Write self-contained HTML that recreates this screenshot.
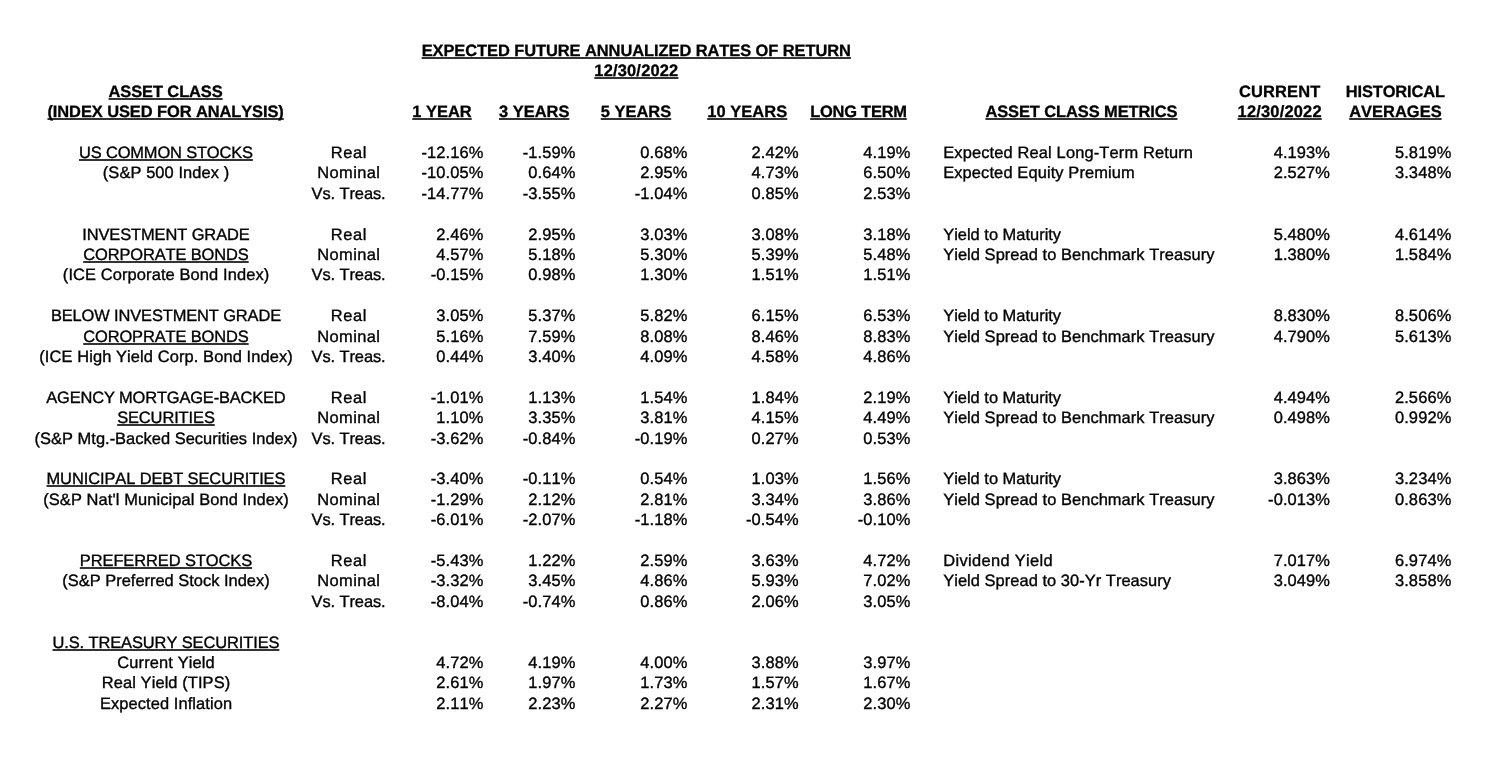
<!DOCTYPE html>
<html lang="en">
<head>
<meta charset="utf-8">
<title>Expected Future Annualized Rates of Return - 12/30/2022</title>
<style>
html,body{margin:0;padding:0;background:#fff;}
body{width:1505px;height:771px;position:relative;overflow:hidden;font-family:"Liberation Sans",Arial,Helvetica,sans-serif;font-size:16.45px;line-height:20.0px;color:#000;}
.sheet{position:absolute;left:0;top:0;width:1505px;height:771px;font-kerning:none;text-rendering:geometricPrecision;-webkit-text-stroke:0.35px #000;}
.row{position:absolute;left:0;width:1505px;height:20.0px;}
.t{position:absolute;top:0;white-space:nowrap;height:20.0px;}
.c{transform:translateX(-50%);}
.r{transform:translateX(-100%);}
b{font-weight:bold;-webkit-text-stroke:0.3px #000;}
u{text-decoration:underline;text-decoration-thickness:1.6px;text-underline-offset:1.3px;text-decoration-color:#333;text-decoration-skip-ink:none;}
</style>
</head>
<body>
<div class="sheet">
<div class="row" style="top:41px">
<div class="t c" style="left:636.27px;letter-spacing:-0.064px"><b><u>EXPECTED FUTURE ANNUALIZED RATES OF RETURN</u></b></div>
</div>
<div class="row" style="top:61px">
<div class="t c" style="left:636.39px;letter-spacing:0.187px"><b><u>12/30/2022</u></b></div>
</div>
<div class="row" style="top:82px">
<div class="t c" style="left:165.60px;letter-spacing:-0.097px"><b><u>ASSET CLASS</u></b></div>
<div class="t c" style="left:1279.69px;letter-spacing:0.172px"><b>CURRENT</b></div>
<div class="t c" style="left:1395.33px;letter-spacing:-0.131px"><b>HISTORICAL</b></div>
</div>
<div class="row" style="top:102px">
<div class="t c" style="left:165.61px;letter-spacing:-0.082px"><b><u>(INDEX USED FOR ANALYSIS)</u></b></div>
<div class="t c" style="left:442.01px;letter-spacing:0.013px"><b><u>1 YEAR</u></b></div>
<div class="t c" style="left:534.20px;letter-spacing:0.001px"><b><u>3 YEARS</u></b></div>
<div class="t c" style="left:636.01px;letter-spacing:0.015px"><b><u>5 YEARS</u></b></div>
<div class="t c" style="left:747.24px;letter-spacing:0.082px"><b><u>10 YEARS</u></b></div>
<div class="t c" style="left:858.49px;letter-spacing:-0.221px"><b><u>LONG TERM</u></b></div>
<div class="t c" style="left:1081.46px;letter-spacing:-0.082px"><b><u>ASSET CLASS METRICS</u></b></div>
<div class="t c" style="left:1279.69px;letter-spacing:0.187px"><b><u>12/30/2022</u></b></div>
<div class="t c" style="left:1395.41px;letter-spacing:0.022px"><b><u>AVERAGES</u></b></div>
</div>
<div class="row" style="top:143px">
<div class="t c" style="left:165.93px;letter-spacing:-0.149px"><u>US COMMON STOCKS</u></div>
<div class="t c" style="left:348.91px;letter-spacing:0.624px">Real</div>
<div class="t r" style="left:483.52px;letter-spacing:0.120px">-12.16%</div>
<div class="t r" style="left:575.52px;letter-spacing:0.120px">-1.59%</div>
<div class="t r" style="left:687.52px;letter-spacing:0.120px">0.68%</div>
<div class="t r" style="left:798.72px;letter-spacing:0.120px">2.42%</div>
<div class="t r" style="left:910.52px;letter-spacing:0.120px">4.19%</div>
<div class="t" style="left:943.20px;letter-spacing:0.139px">Expected Real Long-Term Return</div>
<div class="t r" style="left:1330.12px;letter-spacing:0.120px">4.193%</div>
<div class="t r" style="left:1451.42px;letter-spacing:0.120px">5.819%</div>
</div>
<div class="row" style="top:163px">
<div class="t c" style="left:166.04px;letter-spacing:0.077px">(S&amp;P 500 Index )</div>
<div class="t c" style="left:348.78px;letter-spacing:0.361px">Nominal</div>
<div class="t r" style="left:483.52px;letter-spacing:0.120px">-10.05%</div>
<div class="t r" style="left:575.52px;letter-spacing:0.120px">0.64%</div>
<div class="t r" style="left:687.52px;letter-spacing:0.120px">2.95%</div>
<div class="t r" style="left:798.72px;letter-spacing:0.120px">4.73%</div>
<div class="t r" style="left:910.52px;letter-spacing:0.120px">6.50%</div>
<div class="t" style="left:943.20px;letter-spacing:0.114px">Expected Equity Premium</div>
<div class="t r" style="left:1330.12px;letter-spacing:0.120px">2.527%</div>
<div class="t r" style="left:1451.42px;letter-spacing:0.120px">3.348%</div>
</div>
<div class="row" style="top:184px">
<div class="t c" style="left:348.55px;letter-spacing:-0.093px">Vs. Treas.</div>
<div class="t r" style="left:483.52px;letter-spacing:0.120px">-14.77%</div>
<div class="t r" style="left:575.52px;letter-spacing:0.120px">-3.55%</div>
<div class="t r" style="left:687.52px;letter-spacing:0.120px">-1.04%</div>
<div class="t r" style="left:798.72px;letter-spacing:0.120px">0.85%</div>
<div class="t r" style="left:910.52px;letter-spacing:0.120px">2.53%</div>
</div>
<div class="row" style="top:225px">
<div class="t c" style="left:165.95px;letter-spacing:-0.098px">INVESTMENT GRADE</div>
<div class="t c" style="left:348.91px;letter-spacing:0.624px">Real</div>
<div class="t r" style="left:483.52px;letter-spacing:0.120px">2.46%</div>
<div class="t r" style="left:575.52px;letter-spacing:0.120px">2.95%</div>
<div class="t r" style="left:687.52px;letter-spacing:0.120px">3.03%</div>
<div class="t r" style="left:798.72px;letter-spacing:0.120px">3.08%</div>
<div class="t r" style="left:910.52px;letter-spacing:0.120px">3.18%</div>
<div class="t" style="left:943.20px;letter-spacing:0.002px">Yield to Maturity</div>
<div class="t r" style="left:1330.12px;letter-spacing:0.120px">5.480%</div>
<div class="t r" style="left:1451.42px;letter-spacing:0.120px">4.614%</div>
</div>
<div class="row" style="top:245px">
<div class="t c" style="left:165.94px;letter-spacing:-0.111px"><u>CORPORATE BONDS</u></div>
<div class="t c" style="left:348.78px;letter-spacing:0.361px">Nominal</div>
<div class="t r" style="left:483.52px;letter-spacing:0.120px">4.57%</div>
<div class="t r" style="left:575.52px;letter-spacing:0.120px">5.18%</div>
<div class="t r" style="left:687.52px;letter-spacing:0.120px">5.30%</div>
<div class="t r" style="left:798.72px;letter-spacing:0.120px">5.39%</div>
<div class="t r" style="left:910.52px;letter-spacing:0.120px">5.48%</div>
<div class="t" style="left:943.20px;letter-spacing:0.053px">Yield Spread to Benchmark Treasury</div>
<div class="t r" style="left:1330.12px;letter-spacing:0.120px">1.380%</div>
<div class="t r" style="left:1451.42px;letter-spacing:0.120px">1.584%</div>
</div>
<div class="row" style="top:265px">
<div class="t c" style="left:166.05px;letter-spacing:0.105px">(ICE Corporate Bond Index)</div>
<div class="t c" style="left:348.55px;letter-spacing:-0.093px">Vs. Treas.</div>
<div class="t r" style="left:483.52px;letter-spacing:0.120px">-0.15%</div>
<div class="t r" style="left:575.52px;letter-spacing:0.120px">0.98%</div>
<div class="t r" style="left:687.52px;letter-spacing:0.120px">1.30%</div>
<div class="t r" style="left:798.72px;letter-spacing:0.120px">1.51%</div>
<div class="t r" style="left:910.52px;letter-spacing:0.120px">1.51%</div>
</div>
<div class="row" style="top:306px">
<div class="t c" style="left:165.94px;letter-spacing:-0.126px">BELOW INVESTMENT GRADE</div>
<div class="t c" style="left:348.91px;letter-spacing:0.624px">Real</div>
<div class="t r" style="left:483.52px;letter-spacing:0.120px">3.05%</div>
<div class="t r" style="left:575.52px;letter-spacing:0.120px">5.37%</div>
<div class="t r" style="left:687.52px;letter-spacing:0.120px">5.82%</div>
<div class="t r" style="left:798.72px;letter-spacing:0.120px">6.15%</div>
<div class="t r" style="left:910.52px;letter-spacing:0.120px">6.53%</div>
<div class="t" style="left:943.20px;letter-spacing:0.002px">Yield to Maturity</div>
<div class="t r" style="left:1330.12px;letter-spacing:0.120px">8.830%</div>
<div class="t r" style="left:1451.42px;letter-spacing:0.120px">8.506%</div>
</div>
<div class="row" style="top:327px">
<div class="t c" style="left:165.94px;letter-spacing:-0.111px"><u>COROPRATE BONDS</u></div>
<div class="t c" style="left:348.78px;letter-spacing:0.361px">Nominal</div>
<div class="t r" style="left:483.52px;letter-spacing:0.120px">5.16%</div>
<div class="t r" style="left:575.52px;letter-spacing:0.120px">7.59%</div>
<div class="t r" style="left:687.52px;letter-spacing:0.120px">8.08%</div>
<div class="t r" style="left:798.72px;letter-spacing:0.120px">8.46%</div>
<div class="t r" style="left:910.52px;letter-spacing:0.120px">8.83%</div>
<div class="t" style="left:943.20px;letter-spacing:0.053px">Yield Spread to Benchmark Treasury</div>
<div class="t r" style="left:1330.12px;letter-spacing:0.120px">4.790%</div>
<div class="t r" style="left:1451.42px;letter-spacing:0.120px">5.613%</div>
</div>
<div class="row" style="top:347px">
<div class="t c" style="left:166.05px;letter-spacing:0.100px">(ICE High Yield Corp. Bond Index)</div>
<div class="t c" style="left:348.55px;letter-spacing:-0.093px">Vs. Treas.</div>
<div class="t r" style="left:483.52px;letter-spacing:0.120px">0.44%</div>
<div class="t r" style="left:575.52px;letter-spacing:0.120px">3.40%</div>
<div class="t r" style="left:687.52px;letter-spacing:0.120px">4.09%</div>
<div class="t r" style="left:798.72px;letter-spacing:0.120px">4.58%</div>
<div class="t r" style="left:910.52px;letter-spacing:0.120px">4.86%</div>
</div>
<div class="row" style="top:388px">
<div class="t c" style="left:165.92px;letter-spacing:-0.167px">AGENCY MORTGAGE-BACKED</div>
<div class="t c" style="left:348.91px;letter-spacing:0.624px">Real</div>
<div class="t r" style="left:483.52px;letter-spacing:0.120px">-1.01%</div>
<div class="t r" style="left:575.52px;letter-spacing:0.120px">1.13%</div>
<div class="t r" style="left:687.52px;letter-spacing:0.120px">1.54%</div>
<div class="t r" style="left:798.72px;letter-spacing:0.120px">1.84%</div>
<div class="t r" style="left:910.52px;letter-spacing:0.120px">2.19%</div>
<div class="t" style="left:943.20px;letter-spacing:0.002px">Yield to Maturity</div>
<div class="t r" style="left:1330.12px;letter-spacing:0.120px">4.494%</div>
<div class="t r" style="left:1451.42px;letter-spacing:0.120px">2.566%</div>
</div>
<div class="row" style="top:408px">
<div class="t c" style="left:165.95px;letter-spacing:-0.102px"><u>SECURITIES</u></div>
<div class="t c" style="left:348.78px;letter-spacing:0.361px">Nominal</div>
<div class="t r" style="left:483.52px;letter-spacing:0.120px">1.10%</div>
<div class="t r" style="left:575.52px;letter-spacing:0.120px">3.35%</div>
<div class="t r" style="left:687.52px;letter-spacing:0.120px">3.81%</div>
<div class="t r" style="left:798.72px;letter-spacing:0.120px">4.15%</div>
<div class="t r" style="left:910.52px;letter-spacing:0.120px">4.49%</div>
<div class="t" style="left:943.20px;letter-spacing:0.053px">Yield Spread to Benchmark Treasury</div>
<div class="t r" style="left:1330.12px;letter-spacing:0.120px">0.498%</div>
<div class="t r" style="left:1451.42px;letter-spacing:0.120px">0.992%</div>
</div>
<div class="row" style="top:429px">
<div class="t c" style="left:166.01px;letter-spacing:0.022px">(S&amp;P Mtg.-Backed Securities Index)</div>
<div class="t c" style="left:348.55px;letter-spacing:-0.093px">Vs. Treas.</div>
<div class="t r" style="left:483.52px;letter-spacing:0.120px">-3.62%</div>
<div class="t r" style="left:575.52px;letter-spacing:0.120px">-0.84%</div>
<div class="t r" style="left:687.52px;letter-spacing:0.120px">-0.19%</div>
<div class="t r" style="left:798.72px;letter-spacing:0.120px">0.27%</div>
<div class="t r" style="left:910.52px;letter-spacing:0.120px">0.53%</div>
</div>
<div class="row" style="top:469px">
<div class="t c" style="left:165.95px;letter-spacing:-0.092px"><u>MUNICIPAL DEBT SECURITIES</u></div>
<div class="t c" style="left:348.91px;letter-spacing:0.624px">Real</div>
<div class="t r" style="left:483.52px;letter-spacing:0.120px">-3.40%</div>
<div class="t r" style="left:575.52px;letter-spacing:0.120px">-0.11%</div>
<div class="t r" style="left:687.52px;letter-spacing:0.120px">0.54%</div>
<div class="t r" style="left:798.72px;letter-spacing:0.120px">1.03%</div>
<div class="t r" style="left:910.52px;letter-spacing:0.120px">1.56%</div>
<div class="t" style="left:943.20px;letter-spacing:0.002px">Yield to Maturity</div>
<div class="t r" style="left:1330.12px;letter-spacing:0.120px">3.863%</div>
<div class="t r" style="left:1451.42px;letter-spacing:0.120px">3.234%</div>
</div>
<div class="row" style="top:490px">
<div class="t c" style="left:166.05px;letter-spacing:0.101px">(S&amp;P Nat'l Municipal Bond Index)</div>
<div class="t c" style="left:348.78px;letter-spacing:0.361px">Nominal</div>
<div class="t r" style="left:483.52px;letter-spacing:0.120px">-1.29%</div>
<div class="t r" style="left:575.52px;letter-spacing:0.120px">2.12%</div>
<div class="t r" style="left:687.52px;letter-spacing:0.120px">2.81%</div>
<div class="t r" style="left:798.72px;letter-spacing:0.120px">3.34%</div>
<div class="t r" style="left:910.52px;letter-spacing:0.120px">3.86%</div>
<div class="t" style="left:943.20px;letter-spacing:0.053px">Yield Spread to Benchmark Treasury</div>
<div class="t r" style="left:1330.12px;letter-spacing:0.120px">-0.013%</div>
<div class="t r" style="left:1451.42px;letter-spacing:0.120px">0.863%</div>
</div>
<div class="row" style="top:510px">
<div class="t c" style="left:348.55px;letter-spacing:-0.093px">Vs. Treas.</div>
<div class="t r" style="left:483.52px;letter-spacing:0.120px">-6.01%</div>
<div class="t r" style="left:575.52px;letter-spacing:0.120px">-2.07%</div>
<div class="t r" style="left:687.52px;letter-spacing:0.120px">-1.18%</div>
<div class="t r" style="left:798.72px;letter-spacing:0.120px">-0.54%</div>
<div class="t r" style="left:910.52px;letter-spacing:0.120px">-0.10%</div>
</div>
<div class="row" style="top:551px">
<div class="t c" style="left:165.96px;letter-spacing:-0.085px"><u>PREFERRED STOCKS</u></div>
<div class="t c" style="left:348.91px;letter-spacing:0.624px">Real</div>
<div class="t r" style="left:483.52px;letter-spacing:0.120px">-5.43%</div>
<div class="t r" style="left:575.52px;letter-spacing:0.120px">1.22%</div>
<div class="t r" style="left:687.52px;letter-spacing:0.120px">2.59%</div>
<div class="t r" style="left:798.72px;letter-spacing:0.120px">3.63%</div>
<div class="t r" style="left:910.52px;letter-spacing:0.120px">4.72%</div>
<div class="t" style="left:943.20px;letter-spacing:0.342px">Dividend Yield</div>
<div class="t r" style="left:1330.12px;letter-spacing:0.120px">7.017%</div>
<div class="t r" style="left:1451.42px;letter-spacing:0.120px">6.974%</div>
</div>
<div class="row" style="top:571px">
<div class="t c" style="left:166.00px;letter-spacing:-0.004px">(S&amp;P Preferred Stock Index)</div>
<div class="t c" style="left:348.78px;letter-spacing:0.361px">Nominal</div>
<div class="t r" style="left:483.52px;letter-spacing:0.120px">-3.32%</div>
<div class="t r" style="left:575.52px;letter-spacing:0.120px">3.45%</div>
<div class="t r" style="left:687.52px;letter-spacing:0.120px">4.86%</div>
<div class="t r" style="left:798.72px;letter-spacing:0.120px">5.93%</div>
<div class="t r" style="left:910.52px;letter-spacing:0.120px">7.02%</div>
<div class="t" style="left:943.20px;letter-spacing:0.042px">Yield Spread to 30-Yr Treasury</div>
<div class="t r" style="left:1330.12px;letter-spacing:0.120px">3.049%</div>
<div class="t r" style="left:1451.42px;letter-spacing:0.120px">3.858%</div>
</div>
<div class="row" style="top:592px">
<div class="t c" style="left:348.55px;letter-spacing:-0.093px">Vs. Treas.</div>
<div class="t r" style="left:483.52px;letter-spacing:0.120px">-8.04%</div>
<div class="t r" style="left:575.52px;letter-spacing:0.120px">-0.74%</div>
<div class="t r" style="left:687.52px;letter-spacing:0.120px">0.86%</div>
<div class="t r" style="left:798.72px;letter-spacing:0.120px">2.06%</div>
<div class="t r" style="left:910.52px;letter-spacing:0.120px">3.05%</div>
</div>
<div class="row" style="top:633px">
<div class="t c" style="left:165.95px;letter-spacing:-0.097px"><u>U.S. TREASURY SECURITIES</u></div>
</div>
<div class="row" style="top:653px">
<div class="t c" style="left:166.06px;letter-spacing:0.116px">Current Yield</div>
<div class="t r" style="left:483.52px;letter-spacing:0.120px">4.72%</div>
<div class="t r" style="left:575.52px;letter-spacing:0.120px">4.19%</div>
<div class="t r" style="left:687.52px;letter-spacing:0.120px">4.00%</div>
<div class="t r" style="left:798.72px;letter-spacing:0.120px">3.88%</div>
<div class="t r" style="left:910.52px;letter-spacing:0.120px">3.97%</div>
</div>
<div class="row" style="top:673px">
<div class="t c" style="left:166.04px;letter-spacing:0.085px">Real Yield (TIPS)</div>
<div class="t r" style="left:483.52px;letter-spacing:0.120px">2.61%</div>
<div class="t r" style="left:575.52px;letter-spacing:0.120px">1.97%</div>
<div class="t r" style="left:687.52px;letter-spacing:0.120px">1.73%</div>
<div class="t r" style="left:798.72px;letter-spacing:0.120px">1.57%</div>
<div class="t r" style="left:910.52px;letter-spacing:0.120px">1.67%</div>
</div>
<div class="row" style="top:694px">
<div class="t c" style="left:166.04px;letter-spacing:0.084px">Expected Inflation</div>
<div class="t r" style="left:483.52px;letter-spacing:0.120px">2.11%</div>
<div class="t r" style="left:575.52px;letter-spacing:0.120px">2.23%</div>
<div class="t r" style="left:687.52px;letter-spacing:0.120px">2.27%</div>
<div class="t r" style="left:798.72px;letter-spacing:0.120px">2.31%</div>
<div class="t r" style="left:910.52px;letter-spacing:0.120px">2.30%</div>
</div>
</div>
</body>
</html>
